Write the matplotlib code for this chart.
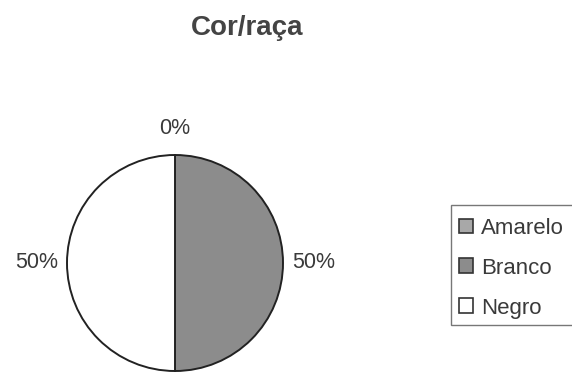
import matplotlib
matplotlib.use('Agg')
import matplotlib.pyplot as plt
from matplotlib.patches import Patch, Rectangle

# Share of respondents by colour/race
categories = ['Amarelo', 'Branco', 'Negro']
shares = [0, 50, 50]
colors = ['#a8a8a8', '#8c8c8c', '#ffffff']

plt.rcParams['font.family'] = ['Liberation Sans', 'DejaVu Sans']
text_color = '#3a3a3a'

W, H = 572, 373
fig = plt.figure(figsize=(W / 100, H / 100), dpi=100)

# pie axes placed by pixel box (centre 175,263, radius 108)
cx, cy, r = 175, 263, 108
pad = 1.04
half = r * pad
ax = fig.add_axes([(cx - half) / W, (H - cy - half) / H, 2 * half / W, 2 * half / H])
wedges, labels, pcts = ax.pie(shares, colors=colors, startangle=90, counterclock=False,
                              autopct='%1.0f%%', pctdistance=1.28, radius=1,
                              wedgeprops=dict(edgecolor='#222222', linewidth=1.4),
                              textprops=dict(fontsize=15.5, color=text_color))
# the empty slice label sits a little closer to the rim
x0, y0 = pcts[0].get_position()
pcts[0].set_position((x0, y0 * 1.25 / 1.28))
ax.set_xlim(-pad, pad)
ax.set_ylim(-pad, pad)
ax.set_aspect('equal')
ax.axis('off')

fig.text(247 / W, 1 - 28 / H, 'Cor/raça', ha='center', va='center',
         fontsize=20, fontweight='bold', color='#444444')

# legend frame runs off the right edge
fig.patches.append(Rectangle((451 / W, 1 - 325 / H), 140 / W, 120 / H,
                             transform=fig.transFigure, facecolor='white',
                             edgecolor='#777777', linewidth=1.0))
handles = [Patch(facecolor=c, edgecolor='#333333', linewidth=1.2) for c in colors]
fig.legend(handles, categories, loc='upper left',
           bbox_to_anchor=(441 / W, 1 - 200 / H), frameon=False,
           fontsize=16, handlelength=0.65, handleheight=0.65,
           handletextpad=0.35, labelspacing=0.85, borderpad=0.3,
           labelcolor=text_color)

fig.savefig('out.png', dpi=100, facecolor='white')
